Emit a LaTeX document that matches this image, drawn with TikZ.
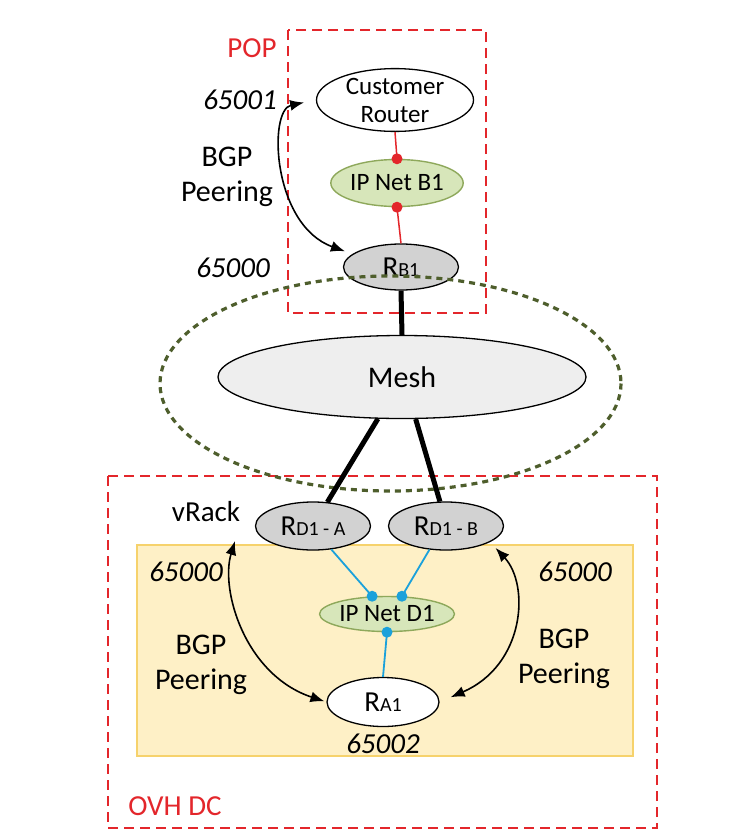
\documentclass[tikz,border=0pt]{standalone}
\usepackage{fontspec}
\setmainfont{Carlito}
\usetikzlibrary{shapes.geometric, arrows.meta, backgrounds, calc}
\definecolor{sitered}{HTML}{E3262B}
\definecolor{meshdash}{HTML}{4E5E2C}
\definecolor{netgreen}{HTML}{D7E6BA}
\definecolor{netedge}{HTML}{8EA85B}
\definecolor{linkblue}{HTML}{1BA1DB}
\definecolor{rtrgray}{HTML}{D2D2D2}
\definecolor{meshgray}{HTML}{EEEEEE}
\definecolor{rackbg}{HTML}{FEF0C6}
\definecolor{rackedge}{HTML}{F6D26C}
\tikzset{
  rtr/.style={ellipse, draw=black, line width=1.3pt, fill=white, inner sep=0pt,
    font=\fontsize{25}{28}\selectfont, align=center},
  rtr/core/.style={rtr, fill=rtrgray, minimum width=115pt, minimum height=46pt,
    font=\fontsize{29}{30}\selectfont},
  net/.style={ellipse, draw=netedge, line width=1.4pt, fill=netgreen, inner sep=0pt,
    font=\fontsize{25}{28}\selectfont},
  site/.style={draw=sitered, line width=1.5pt, dash pattern=on 10pt off 6pt},
  sitelbl/.style={text=sitered, font=\fontsize{29}{32}\selectfont},
  asn/.style={font=\fontsize{29}{32}\selectfont\itshape},
  lb/.style={font=\fontsize{30}{35}\selectfont, align=center},
  trunk/.style={line width=5pt},
  redlink/.style={draw=sitered, line width=1.5pt},
  bluelink/.style={draw=linkblue, line width=1.8pt},
  bgp/.style={{Latex[length=14pt,width=11pt]}-{Latex[length=14pt,width=11pt]}, line width=1.6pt},
}
\newcommand{\RN}[2]{#1{\fontsize{20}{22}\selectfont #2}}

\begin{document}
\begin{tikzpicture}[x=1pt, y=-1pt]
\useasboundingbox (0,0) rectangle (751,838);

\node[rtr, minimum width=157pt, minimum height=57pt] (CR) at (395,100) {Customer\\Router};
\node[net, minimum width=122pt, minimum height=47pt] (B1) at (397,183) {IP Net B1};
\node[rtr/core] (RB1) at (401,267) {\RN{R}{B1}};

\node[rtr, fill=meshgray, minimum width=368pt, minimum height=83pt,
      font=\fontsize{30}{32}\selectfont] (M) at (402,377) {Mesh};

\node[rtr/core, minimum height=48pt] (RDA) at (313,526) {\RN{R}{D1 - A}};
\node[rtr/core, minimum height=48pt] (RDB) at (446,526) {\RN{R}{D1 - B}};
\node[net, minimum width=121pt, minimum height=35pt] (D1) at (387,614) {IP Net D1};
\node[rtr, minimum width=112pt, minimum height=49pt, font=\fontsize{29}{30}\selectfont] (RA1) at (383,702) {\RN{R}{A1}};

\node[sitelbl] (POP) at (252,48) {POP};
\node[sitelbl] (OVH) at (175,806) {OVH DC};
\node[font=\fontsize{29}{32}\selectfont] (VR) at (206,512) {vRack};

\node[asn] (A1) at (240,100) {65001};
\node[asn] (A2) at (233,268) {65000};
\node[asn] (A3) at (186,572) {65000};
\node[asn] (A4) at (575,572) {65000};
\node[asn] (A5) at (383,744) {65002};

\node[lb] (L1) at (227,177) {BGP\\Peering};
\node[lb] (L2) at (201,665) {BGP\\Peering};
\node[lb] (L3) at (564,659) {BGP\\Peering};

\coordinate (vrk) at (235,541);

\begin{scope}[on background layer]
  \filldraw[fill=rackbg, draw=rackedge, line width=1.3pt] (137,545) rectangle (633,756);
  \draw[site] (288,30) rectangle (486,313);
  \draw[site] (108,476) rectangle (657,828);
\end{scope}

\draw[meshdash, line width=3.2pt, dash pattern=on 6pt off 5pt] (390.5,383.5) ellipse [x radius=230.5, y radius=107.5];

\draw[trunk] (RB1.south) -- (M.north);
\draw[trunk] (M.-120) -- (RDA.59);
\draw[trunk] (M.-72) -- (RDB.104);

\draw[redlink] (CR.south) -- (B1.north);
\draw[redlink] (B1.south) -- (RB1.north);
\fill[sitered] (B1.north) circle (5.5pt);
\fill[sitered] (B1.south) circle (5.5pt);

\draw[bluelink] (RDA.-52) -- (D1.130);
\draw[bluelink] (RDB.-125) -- (D1.50);
\draw[bluelink] (D1.south) -- (RA1.north);
\fill[linkblue] (D1.130) circle (5.5pt);
\fill[linkblue] (D1.50) circle (5.5pt);
\fill[linkblue] (D1.south) circle (5.5pt);

\draw[bgp, shorten <=12pt, shorten >=8pt] (CR.west) .. controls (268,110) and (272,225) .. (RB1.165);
\draw[bgp, shorten >=2pt] (vrk) .. controls (220,590) and (245,675) .. (RA1.west);
\draw[bgp, shorten <=8pt, shorten >=12pt] (RDB.-20) .. controls (530,585) and (525,665) .. (RA1.east);

\end{tikzpicture}
\end{document}
